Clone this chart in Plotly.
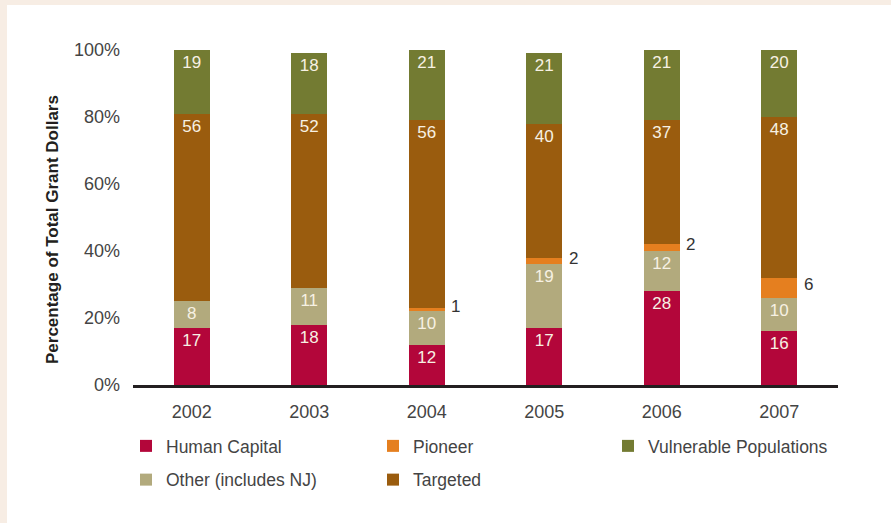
import plotly.graph_objects as go

years = ["2002", "2003", "2004", "2005", "2006", "2007"]
human_capital = [17, 18, 12, 17, 28, 16]
other = [8, 11, 10, 19, 12, 10]
pioneer = [0, 0, 1, 2, 2, 6]
targeted = [56, 52, 56, 40, 37, 48]
vulnerable = [19, 18, 21, 21, 21, 20]

# plot area in pixels (891 x 523 page)
W, H = 891, 523
L, R, T, B = 133, 53, 50, 138
pw, ph = W - L - R, H - T - B

font = "Liberation Sans, Arial, sans-serif"
text_grey = "#444444"
inside_col = "#f7f1e3"

series = [
    ("Human Capital", human_capital, "#b3063a", "legend", True),
    ("Other (includes NJ)", other, "#b2aa7d", "legend", True),
    ("Pioneer", pioneer, "#e57f1f", "legend2", False),
    ("Targeted", targeted, "#9a5c0e", "legend2", True),
    ("Vulnerable Populations", vulnerable, "#737b32", "legend3", True),
]

fig = go.Figure()
for name, vals, color, leg, show_text in series:
    fig.add_trace(
        go.Bar(
            x=years, y=vals, name=name,
            marker=dict(color=color, line=dict(width=0)),
            text=[str(v) for v in vals] if show_text else None,
            textposition="inside" if show_text else "none",
            insidetextanchor="end",
            textangle=0,
            insidetextfont=dict(family=font, size=17, color=inside_col),
            legend=leg, legendgroup=name,
            hoverinfo="x+y+name",
        )
    )

# pioneer values written to the right of the bars
for k, yr in enumerate(years):
    if pioneer[k] > 0:
        base = human_capital[k] + other[k]
        fig.add_annotation(
            x=k, y=base + pioneer[k] / 2, text=str(pioneer[k]),
            showarrow=False, xshift=29, yshift=3,
            font=dict(family=font, size=17, color="#333333"),
        )

# y axis title
fig.add_annotation(
    xref="paper", yref="paper", x=(52 - L) / pw, y=(385 - 230) / ph,
    xanchor="center", yanchor="middle",
    text="<b>Percentage of Total Grant Dollars</b>", textangle=-90,
    showarrow=False, font=dict(family=font, size=17, color="#231f20"),
)

# peach frame strips on the top and left
fig.add_shape(type="rect", xref="paper", yref="paper", layer="below",
              x0=-L / pw, x1=(W - L) / pw, y0=(385 - 5) / ph, y1=385 / ph + 0.2,
              fillcolor="#f7ede4", line_width=0)
fig.add_shape(type="rect", xref="paper", yref="paper", layer="below",
              x0=-L / pw, x1=(7 - L) / pw, y0=-(H - 385) / ph, y1=385 / ph + 0.2,
              fillcolor="#f7ede4", line_width=0)

leg_common = dict(
    orientation="v", yanchor="top", xanchor="left",
    font=dict(family=font, size=17.5, color=text_grey),
    bgcolor="rgba(0,0,0,0)", tracegroupgap=8, itemclick=False,
)
leg_y = (385 - 428) / ph

fig.update_layout(
    width=W, height=H,
    barmode="stack", bargap=0.69,
    paper_bgcolor="white", plot_bgcolor="white",
    margin=dict(l=L, r=R, t=T, b=B),
    font=dict(family=font, size=17, color=text_grey),
    legend=dict(x=(126 - L) / pw, y=leg_y, **leg_common),
    legend2=dict(x=(373 - L) / pw, y=leg_y, **leg_common),
    legend3=dict(x=(608 - L) / pw, y=leg_y, **leg_common),
    showlegend=True,
)
fig.update_xaxes(
    type="category",
    showline=True, linecolor="#231f20", linewidth=3, showgrid=False,
    ticks="", ticklabelstandoff=8, range=[-0.5, 5.5],
    tickfont=dict(family=font, size=18, color=text_grey),
)
fig.update_yaxes(
    range=[0, 100], tickvals=[0, 20, 40, 60, 80, 100],
    ticktext=["0%", "20%", "40%", "60%", "80%", "100%"],
    showgrid=False, zeroline=False, showline=False, ticks="",
    ticklabelstandoff=12,
    tickfont=dict(family=font, size=18, color=text_grey),
)

fig.write_html(
    "out.html",
    config={"displayModeBar": False},
    post_script="document.body.style.margin='0';document.body.style.overflow='hidden';",
)
